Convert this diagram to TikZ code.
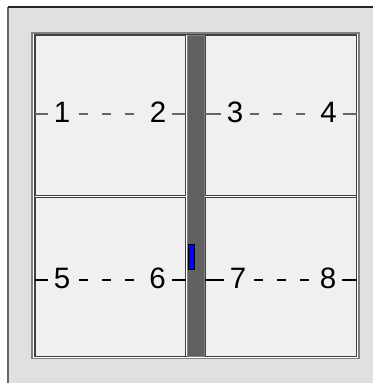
\documentclass[tikz,border=0pt]{standalone}
\usepackage{fontspec}
\setmainfont{Liberation Sans}
\definecolor{bg}{HTML}{E0E0E0}
\definecolor{panelfill}{HTML}{F0F0F0}
\definecolor{barfill}{HTML}{606060}
\definecolor{edgecol}{HTML}{404040}
\definecolor{framecol}{HTML}{808080}
\definecolor{dashgray}{HTML}{666666}
\begin{document}
\begin{tikzpicture}[x=1pt,y=-1pt,
  panelbox/.style={draw=edgecol, line width=1pt, fill=panelfill, inner sep=0pt, anchor=north west},
  lbl/.style={font=\fontsize{29.5}{30}\selectfont, inner sep=0pt, minimum width=28pt, text height=20pt, text depth=4pt},
  solidline/.style={line width=1.3pt},
  dashline/.style={line width=1.3pt, dash pattern=on 9pt off 14pt}]
\useasboundingbox (0,0) rectangle (373,383);
\fill[white] (0,0) rectangle (373,383);
% outer background
\fill[bg] (8,7) rectangle (373,383);
\draw[line width=1.3pt, draw=black!60] (8,383) -- (8,7);
\draw[line width=1.2pt, draw=black!85] (8,7) -- (373,7);
% frame
\draw[fill=white, draw=framecol, line width=1.2pt] (32,33) rectangle (359,358.5);
\draw[draw=edgecol, line width=1pt] (34,34.5) rectangle (356.5,356.5);
% panels
\node[panelbox, minimum width=150pt, minimum height=160pt] (p1) at (35,35) {};
\node[panelbox, minimum width=151pt, minimum height=160pt] (p2) at (205,35) {};
\node[panelbox, minimum width=150pt, minimum height=159pt] (p3) at (35,197) {};
\node[panelbox, minimum width=151pt, minimum height=159pt] (p4) at (205,197) {};
% bar
\node[draw=framecol, fill=barfill, line width=0.8pt, inner sep=0pt, anchor=north west,
      minimum width=17pt, minimum height=321pt] (bar) at (187,35) {};
% blue marker
\node[draw=black, fill=blue, line width=0.8pt, inner sep=0pt, anchor=north west,
      minimum width=6pt, minimum height=25pt] (mark) at (188,244) {};
% labels
\node[lbl] (l1) at (62,114) {1};
\node[lbl] (l2) at (158,114) {2};
\node[lbl] (l3) at (235,114) {3};
\node[lbl] (l4) at (328.5,114) {4};
\node[lbl] (l5) at (62,280) {5};
\node[lbl] (l6) at (157.5,280) {6};
\node[lbl] (l7) at (238,280) {7};
\node[lbl] (l8) at (328,280) {8};
% row 1 lines
\draw[solidline, draw=dashgray] (p1.west |- l1) -- (l1);
\draw[dashline, draw=dashgray, dash phase=20pt] (l1) -- (l2);
\draw[solidline, draw=dashgray] (l2) -- (p1.east |- l2);
\draw[solidline, draw=dashgray] (p2.west |- l3) -- (l3);
\draw[dashline, draw=dashgray, dash phase=22pt] (l3) -- (l4);
\draw[solidline, draw=dashgray] (l4) -- (p2.east |- l4);
% row 2 lines
\draw[solidline, draw=black] (p3.west |- l5) -- (l5);
\draw[dashline, draw=black, dash phase=20pt] (l5) -- (l6);
\draw[solidline, draw=black] (l6) -- (p3.east |- l6);
\draw[solidline, draw=black] (p4.west |- l7) -- (l7);
\draw[dashline, draw=black, dash phase=21pt] (l7) -- (l8);
\draw[solidline, draw=black] (l8) -- (p4.east |- l8);
\end{tikzpicture}
\end{document}
